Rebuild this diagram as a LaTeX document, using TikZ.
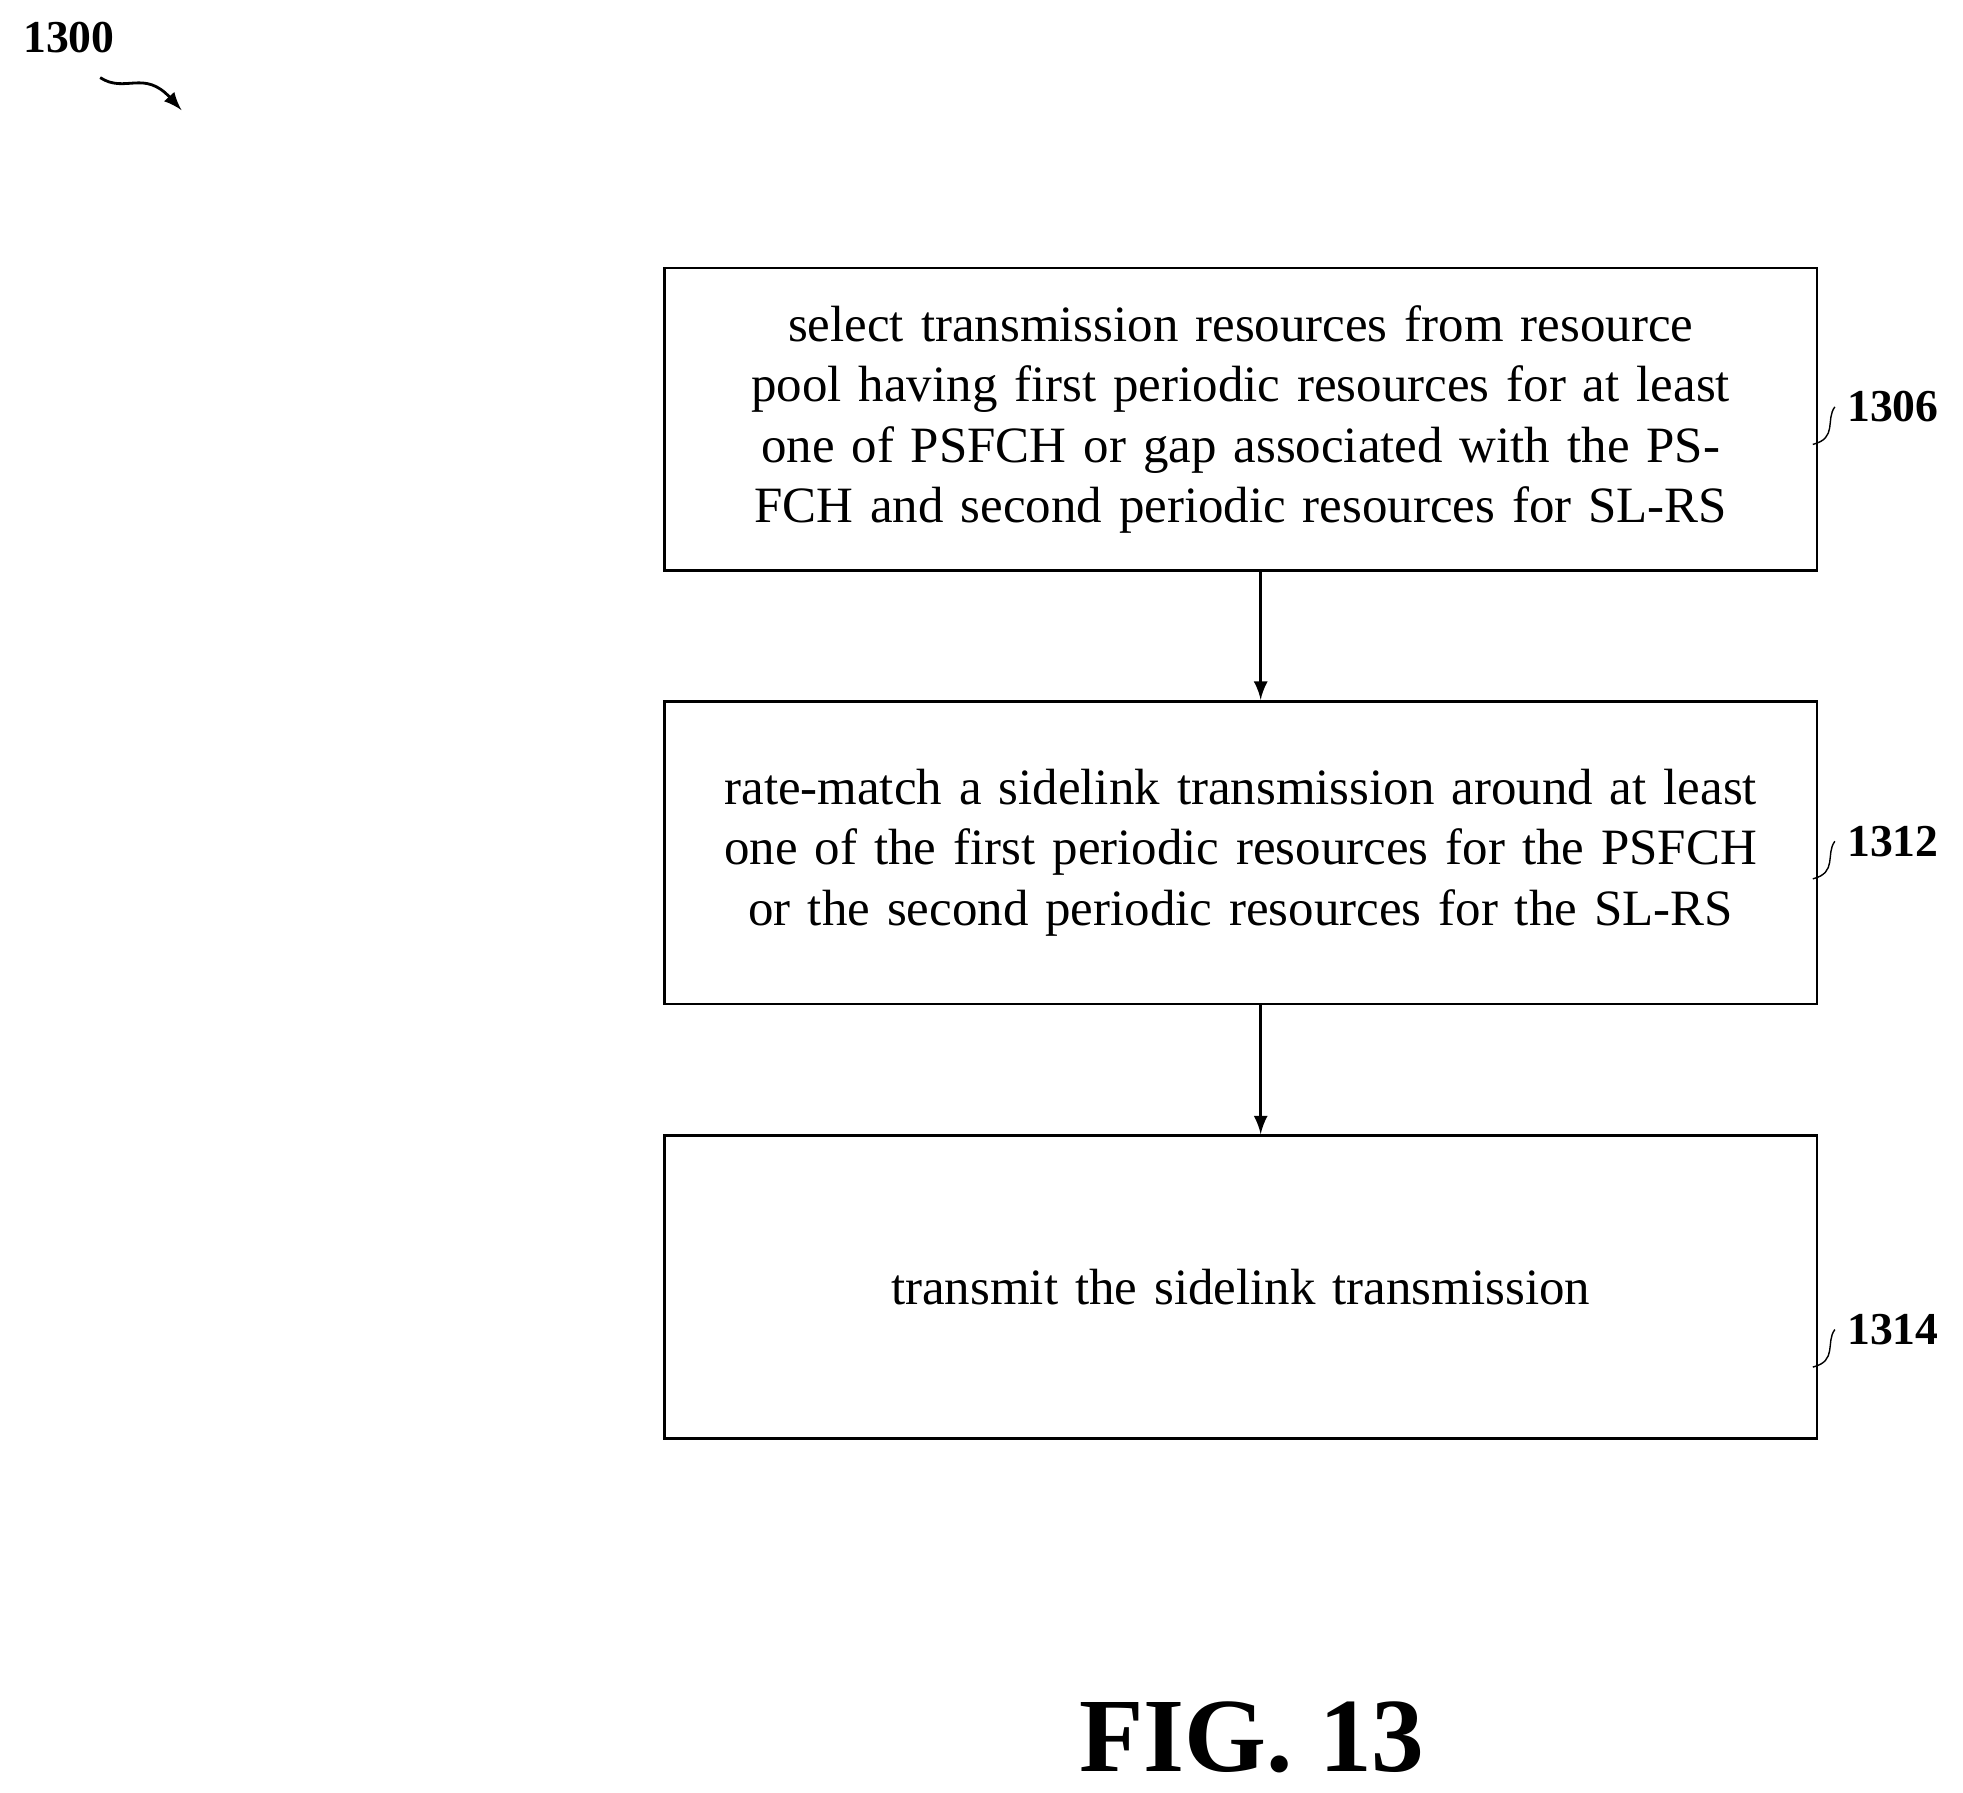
\documentclass[tikz,border=0pt]{standalone}
\usepackage{fontspec}
\setmainfont{Liberation Serif}
\usetikzlibrary{arrows,calc}
\tikzset{>=latex}
\tikzstyle{stepbox}=[rectangle,draw=black,thick,minimum height=3.03cm,minimum width=11.43cm,text width=11.3cm,align=center,font=\fontsize{14.5}{17.2}\selectfont]
\tikzstyle{tag}=[font=\fontsize{13}{15}\selectfont\bfseries]

\begin{document}
\begin{tikzpicture}[x=0.01252cm,y=-0.01252cm]
	\useasboundingbox (0,0) rectangle (1568,1432);

	\node[stepbox] (s1306) at (991,335) {select transmission resources from resource pool having first periodic resources for at least one of PSFCH or gap associated with the PSFCH and second periodic resources for SL-RS};
	\node[stepbox] (s1312) at (991,681) {rate-match a sidelink transmission around at least one of the first periodic resources for the PSFCH or the second periodic resources for the SL-RS\\[1.6em]};
	\node[stepbox] (s1314) at (991,1028) {transmit the sidelink transmission\\[3.2em]};

	\draw[->,thick] (s1306.south -| 1007,0) -- (s1312.north -| 1007,0);
	\draw[->,thick] (s1312.south -| 1007,0) -- (s1314.north -| 1007,0);

	\node[tag] (l1306) at (1512,325) {1306};
	\node[tag] (l1312) at (1512,672) {1312};
	\node[tag] (l1314) at (1512,1062) {1314};
	\foreach \n/\y in {1306/355,1312/702,1314/1092}
		\draw (1448,\y) .. controls (1468,\y-5) and (1458,\y-20) .. (l\n.west);

	\node[tag] (l1300) at (55,30) {1300};
	\draw[->,thick] (80,62) .. controls (100,75) and (115,55) .. (145,88);

	\node (fig) at (1000,1388) {\fontsize{30}{34}\selectfont\bfseries FIG. 13};
\end{tikzpicture}
\end{document}
